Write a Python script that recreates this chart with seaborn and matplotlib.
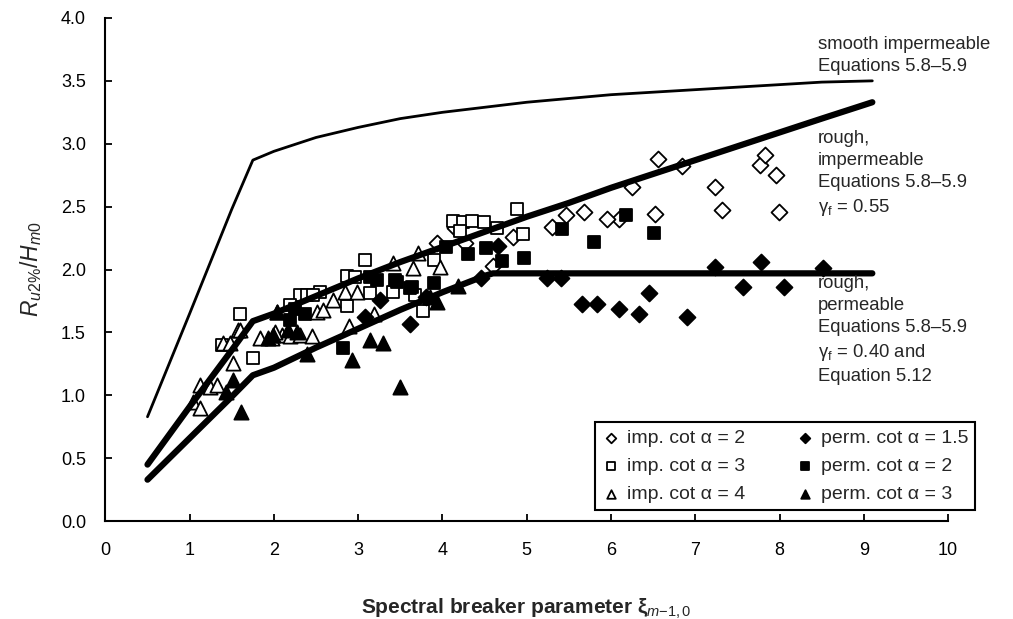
import numpy as np
import pandas as pd
import matplotlib
matplotlib.use('Agg')
import matplotlib.pyplot as plt
import seaborn as sns

# Design curves
smooth_x = [0.5, 1.0, 1.5, 1.75, 2.0, 2.5, 3.0, 3.5, 4.0, 4.5, 5.0, 5.5, 6.0, 6.5, 7.0, 7.5, 8.0, 8.5, 9.1]
smooth_y = [0.83, 1.65, 2.48, 2.87, 2.94, 3.05, 3.13, 3.20, 3.25, 3.29, 3.33, 3.36, 3.39, 3.41, 3.43, 3.45, 3.47, 3.49, 3.50]

rough_imp_x = [0.5, 1.0, 1.5, 1.75, 2.0, 2.5, 3.0, 3.5, 4.0, 4.5, 5.0, 5.5, 6.0, 6.5, 7.0, 7.5, 8.0, 8.5, 9.1]
rough_imp_y = [0.45, 0.91, 1.36, 1.59, 1.65, 1.79, 1.93, 2.06, 2.18, 2.30, 2.42, 2.53, 2.65, 2.76, 2.87, 2.98, 3.09, 3.20, 3.33]

rough_perm_x = [0.5, 1.0, 1.5, 1.75, 2.0, 2.5, 3.0, 3.5, 4.0, 4.5, 4.6, 9.1]
rough_perm_y = [0.33, 0.66, 0.99, 1.16, 1.22, 1.38, 1.53, 1.68, 1.82, 1.95, 1.97, 1.97]

# Measurements
imp2_x = [6.56, 6.84, 7.23, 7.32, 7.77, 7.83, 7.96, 7.99, 6.52, 6.25, 6.09, 5.95, 5.68, 5.47,
          5.30, 4.84, 4.60, 3.93, 4.27, 4.15]
imp2_y = [2.88, 2.82, 2.66, 2.47, 2.83, 2.91, 2.75, 2.46, 2.44, 2.66, 2.40, 2.40, 2.46, 2.43,
          2.34, 2.26, 2.03, 2.21, 2.21, 2.33]

imp3_x = [4.12, 4.24, 4.35, 4.21, 4.49, 4.65, 4.88, 4.96, 3.90, 3.67, 3.77, 3.08, 2.87, 2.96,
          2.87, 3.41, 3.14, 2.55, 2.31, 2.39, 2.46, 2.19, 1.75, 1.38, 1.60]
imp3_y = [2.39, 2.38, 2.39, 2.31, 2.38, 2.33, 2.48, 2.28, 2.08, 1.80, 1.67, 2.08, 1.95, 1.94,
          1.71, 1.82, 1.81, 1.82, 1.80, 1.80, 1.80, 1.72, 1.30, 1.40, 1.65]

imp4_x = [1.40, 1.48, 1.51, 1.12, 1.24, 1.32, 1.04, 1.12, 1.57, 1.60, 1.83, 1.98, 2.09, 2.19,
          2.31, 2.45, 2.04, 2.51, 2.58, 2.89, 3.19, 2.84, 2.99, 2.70, 3.41, 3.65, 3.97, 3.71, 2.01]
imp4_y = [1.42, 1.42, 1.26, 1.08, 1.07, 1.08, 0.95, 0.90, 1.52, 1.52, 1.46, 1.46, 1.48, 1.47,
          1.48, 1.47, 1.66, 1.66, 1.68, 1.55, 1.65, 1.82, 1.82, 1.76, 2.05, 2.01, 2.02, 2.13, 1.50]

perm15_x = [4.66, 4.46, 5.24, 5.41, 5.66, 5.83, 6.09, 6.33, 6.45, 6.90, 7.23, 7.56, 7.78, 8.05,
            8.52, 3.26, 3.08, 3.61, 3.80]
perm15_y = [2.19, 1.93, 1.93, 1.93, 1.73, 1.73, 1.69, 1.65, 1.81, 1.62, 2.02, 1.86, 2.06, 1.86,
            2.01, 1.76, 1.62, 1.57, 1.78]

perm2_x = [5.42, 5.80, 6.18, 6.51, 4.52, 4.30, 4.71, 4.97, 4.04, 2.82, 3.90, 3.44, 3.22, 3.14,
           3.64, 3.46, 2.19, 2.37, 2.25, 3.61]
perm2_y = [2.32, 2.22, 2.43, 2.29, 2.17, 2.12, 2.07, 2.09, 2.18, 1.38, 1.89, 1.92, 1.92, 1.94,
           1.86, 1.90, 1.60, 1.65, 1.69, 1.85]

perm3_x = [1.51, 1.43, 1.61, 2.39, 2.93, 3.14, 3.29, 3.50, 3.94, 4.18, 3.85, 2.04, 1.93, 1.99,
           2.27, 2.17]
perm3_y = [1.12, 1.03, 0.87, 1.33, 1.28, 1.44, 1.42, 1.07, 1.74, 1.87, 1.78, 1.66, 1.46, 1.48,
           1.50, 1.52]

series = [
    ('imp. cot \u03b1 = 2', imp2_x, imp2_y, 'D', 'white', 66),
    ('imp. cot \u03b1 = 3', imp3_x, imp3_y, 's', 'white', 85),
    ('imp. cot \u03b1 = 4', imp4_x, imp4_y, '^', 'white', 105),
    ('perm. cot \u03b1 = 1.5', perm15_x, perm15_y, 'D', 'black', 66),
    ('perm. cot \u03b1 = 2', perm2_x, perm2_y, 's', 'black', 85),
    ('perm. cot \u03b1 = 3', perm3_x, perm3_y, '^', 'black', 105),
]

sns.set_style('ticks')
plt.rcParams['font.family'] = ['Liberation Sans', 'DejaVu Sans']
plt.rcParams['mathtext.fontset'] = 'custom'
plt.rcParams['mathtext.rm'] = 'Liberation Sans'
plt.rcParams['mathtext.it'] = 'Liberation Sans:italic'

fig = plt.figure(figsize=(10.13, 6.19), dpi=100)
ax = fig.add_axes([0.104, 0.158, 0.832, 0.813])

for label, xs, ys, m, fc, s in series:
    sns.scatterplot(x=xs, y=ys, marker=m, s=s, color=fc, edgecolor='black',
                    linewidth=1.3, ax=ax, label=label, zorder=2)

sns.lineplot(x=smooth_x, y=smooth_y, color='black', lw=2, ax=ax, estimator=None, zorder=3)
sns.lineplot(x=rough_imp_x, y=rough_imp_y, color='black', lw=4.5, ax=ax, estimator=None, zorder=3)
sns.lineplot(x=rough_perm_x, y=rough_perm_y, color='black', lw=4.5, ax=ax, estimator=None, zorder=3)

ax.set_xlim(0, 10)
ax.set_ylim(0, 4)
ax.set_xticks(range(0, 11))
ax.set_yticks(np.arange(0, 4.01, 0.5))
ax.set_yticklabels([f'{v:.1f}' for v in np.arange(0, 4.01, 0.5)])
ax.tick_params(direction='in', length=5, width=1.3, labelsize=13, colors='black')
ax.tick_params(axis='y', pad=14)
ax.tick_params(axis='x', pad=15)
for sp in ['top', 'right']:
    ax.spines[sp].set_visible(False)
for sp in ['left', 'bottom']:
    ax.spines[sp].set_linewidth(1.5)
    ax.spines[sp].set_color('black')

ax.set_xlabel('Spectral breaker parameter \u03be$_{m\\mathrm{-1,0}}$', fontsize=15,
              fontweight='bold', labelpad=27)
ax.set_ylabel(r'$R_{u2\%}/H_{m0}$', fontsize=16.5, labelpad=12)

tx = 8.45
kw = dict(fontsize=13.3, va='top', ha='left', linespacing=1.4, clip_on=False)
ax.text(tx, 3.86, 'smooth impermeable\nEquations 5.8\u20135.9', **kw)
ax.text(tx, 3.11, 'rough,\nimpermeable\nEquations 5.8\u20135.9\n\u03b3$_\\mathrm{f}$ = 0.55', **kw)
ax.text(tx, 1.96, 'rough,\npermeable\nEquations 5.8\u20135.9\n\u03b3$_\\mathrm{f}$ = 0.40 and\nEquation 5.12', **kw)

leg = ax.legend(ncol=2, loc='lower right', bbox_to_anchor=(1.032, 0.022), fontsize=14,
                frameon=True, fancybox=False, edgecolor='black', framealpha=1,
                markerscale=0.6, handletextpad=0.3, columnspacing=2.6, labelspacing=0.55,
                borderpad=0.35, handlelength=1.0, borderaxespad=0)
leg.get_frame().set_linewidth(1.5)

fig.savefig('out.png', dpi=100)
